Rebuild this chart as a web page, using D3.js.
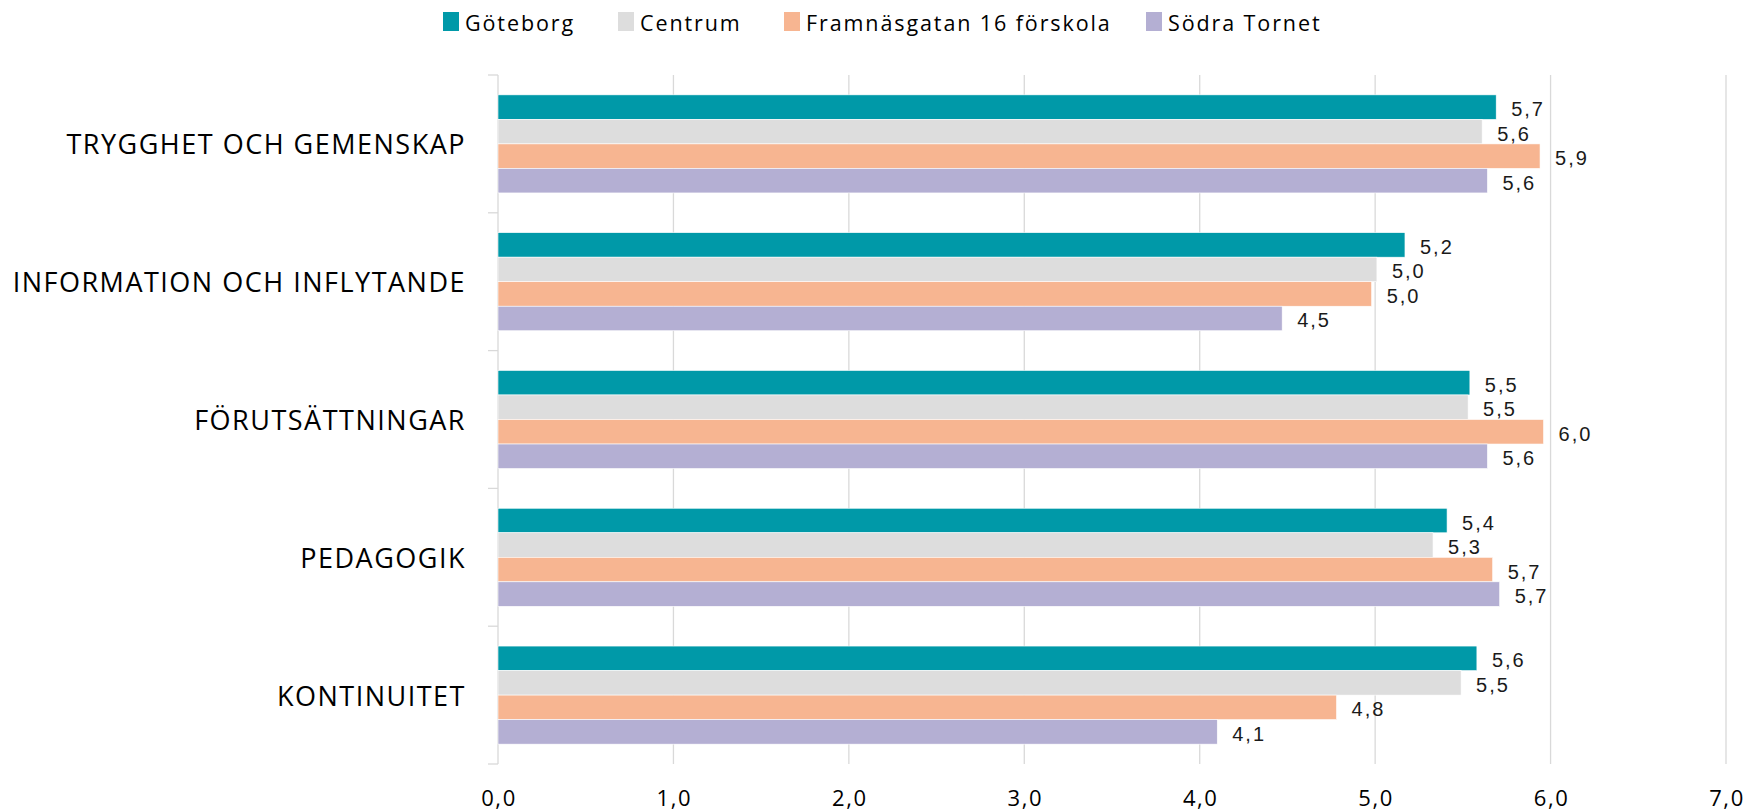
<!DOCTYPE html>
<html>
<head>
<meta charset="utf-8">
<script src="https://cdn.jsdelivr.net/npm/d3@7"></script>
<style>
  body { margin: 0; background: #fff; }
  svg { display: block; }
</style>
</head>
<body>
<svg width="1746" height="812"></svg>
<script>
// categories top to bottom
const categories = ["TRYGGHET OCH GEMENSKAP", "INFORMATION OCH INFLYTANDE", "FÖRUTSÄTTNINGAR", "PEDAGOGIK", "KONTINUITET"];
const seriesNames = ["Göteborg", "Centrum", "Framnäsgatan 16 förskola", "Södra Tornet"];
const seriesColors = ["#0099a8", "#dddddd", "#f7b591", "#b4afd3"];

// values per series, same order as categories
const goteborg = [5.69, 5.17, 5.54, 5.41, 5.58];
const centrum = [5.61, 5.01, 5.53, 5.33, 5.49];
const framnas = [5.94, 4.98, 5.96, 5.67, 4.78];
const sodraTornet = [5.64, 4.47, 5.64, 5.71, 4.10];
const seriesValues = [goteborg, centrum, framnas, sodraTornet];

const xTicks = [0, 1, 2, 3, 4, 5, 6, 7];

let svg = d3.select("svg"),
    margin = {top: 75, right: 20, bottom: 48, left: 498},
    width = +svg.attr("width") - margin.left - margin.right,
    height = +svg.attr("height") - margin.top - margin.bottom,
    g = svg.append("g").attr("transform", "translate(" + margin.left + "," + margin.top + ")");

const commaFmt = v => d3.format(".1f")(v).replace(".", ",");

const x = d3.scaleLinear()
    .domain([0, 7])
    .range([0, 1228]);

const y = d3.scaleBand()
    .domain(categories)
    .range([0, height])
    .padding(0);

const ySub = d3.scaleBand()
    .domain(seriesNames)
    .range([0, y.bandwidth()])
    .paddingInner(0)
    .paddingOuter(0.81);

// gridlines
g.append("g")
    .selectAll("line")
    .data(xTicks.slice(1))
    .join("line")
      .attr("x1", d => x(d))
      .attr("x2", d => x(d))
      .attr("y1", 0)
      .attr("y2", height)
      .attr("stroke", "#d9d9d9")
      .attr("stroke-width", 1.3);

// left axis line and category separators
g.append("line")
    .attr("x1", 0).attr("x2", 0)
    .attr("y1", 0).attr("y2", height)
    .attr("stroke", "#d9d9d9")
    .attr("stroke-width", 1.3);

const sepPos = categories.map(c => y(c)).concat([height]);
g.append("g")
    .selectAll("line")
    .data(sepPos)
    .join("line")
      .attr("x1", -10).attr("x2", 0)
      .attr("y1", d => d).attr("y2", d => d)
      .attr("stroke", "#d9d9d9")
      .attr("stroke-width", 1.3);

// bars
const rows = [];
categories.forEach((c, i) => {
  seriesNames.forEach((s, j) => {
    rows.push({cat: c, series: s, value: seriesValues[j][i], color: seriesColors[j]});
  });
});

g.append("g")
    .selectAll("rect")
    .data(rows)
    .join("rect")
      .attr("x", x(0))
      .attr("y", d => y(d.cat) + ySub(d.series))
      .attr("width", d => x(d.value) - x(0))
      .attr("height", ySub.bandwidth())
      .attr("fill", d => d.color)
      .attr("stroke", "#fff")
      .attr("stroke-width", 0.6);

// data labels
g.append("g")
    .selectAll("text")
    .data(rows)
    .join("text")
      .attr("x", d => x(d.value) + 15)
      .attr("y", d => y(d.cat) + ySub(d.series) + ySub.bandwidth() / 2 + 2)
      .attr("dominant-baseline", "central")
      .attr("font-family", "'Liberation Sans', Arial, sans-serif")
      .attr("font-size", 20)
      .attr("letter-spacing", 2)
      .attr("fill", "#1a1a1a")
      .text(d => commaFmt(d.value));

// category labels
g.append("g")
    .selectAll("text")
    .data(categories)
    .join("text")
      .attr("x", -32)
      .attr("y", d => y(d) + y.bandwidth() / 2)
      .attr("text-anchor", "end")
      .attr("dominant-baseline", "central")
      .attr("font-family", "'Open Sans', sans-serif")
      .attr("font-size", 27)
      .attr("letter-spacing", 1.5)
      .attr("fill", "#000")
      .text(d => d);

// x tick labels
g.append("g")
    .selectAll("text")
    .data(xTicks)
    .join("text")
      .attr("x", d => x(d) + 1)
      .attr("y", height + 33)
      .attr("text-anchor", "middle")
      .attr("dominant-baseline", "central")
      .attr("font-family", "'Open Sans', sans-serif")
      .attr("font-size", 22)
      .attr("letter-spacing", 1.6)
      .attr("fill", "#000")
      .text(d => commaFmt(d));

// legend
const legendX = [443, 618, 784, 1146];
const legend = svg.append("g")
    .selectAll("g")
    .data(seriesNames)
    .join("g")
      .attr("transform", (d, i) => "translate(" + legendX[i] + ",12)");

legend.append("rect")
    .attr("width", 16)
    .attr("height", 19)
    .attr("fill", (d, i) => seriesColors[i]);

legend.append("text")
    .attr("x", 22)
    .attr("y", 10)
    .attr("dominant-baseline", "central")
    .attr("font-family", "'Open Sans', sans-serif")
    .attr("font-size", 21.5)
    .attr("letter-spacing", 1.9)
    .attr("fill", "#000")
    .text(d => d);
</script>
</body>
</html>
